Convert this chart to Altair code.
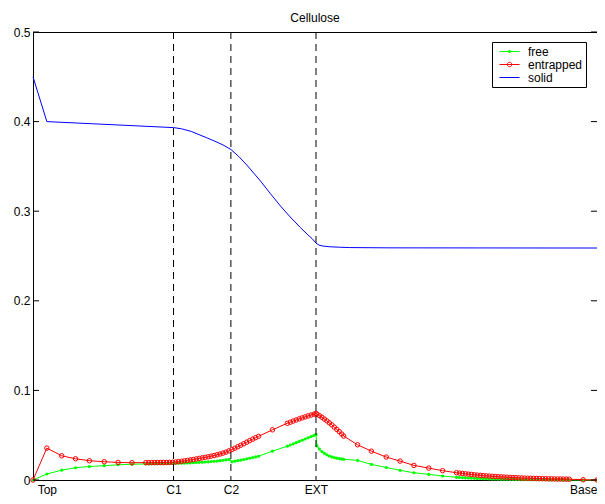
import altair as alt
import pandas as pd

FONT = "Liberation Sans"

# ---- data -------------------------------------------------------------
title_text = ["Cellulose"]

x_pos = [0, 14, 29, 43, 57, 72, 86, 100,
         114, 117, 120, 123, 126, 129, 132, 135, 138, 141,
         144, 147, 150, 153, 156, 159, 162, 165, 168, 171,
         174, 177, 180, 183, 186, 189, 192, 195, 198, 201,
         204, 207, 210, 213, 216, 219, 222, 225, 228,
         242,
         257, 260, 263, 266, 269, 272, 275, 278, 281, 284, 286,
         287, 289.5, 292, 294.5, 297, 299.5, 302, 304.5, 307, 309.5, 312, 314,
         328, 342, 357, 371, 385, 400, 414, 428,
         431, 434, 437, 440, 443, 446, 449, 452, 455, 458,
         461, 464, 467, 470, 473, 476, 479, 482, 485, 488,
         491, 494, 497, 500, 503, 506, 509, 512, 515, 518,
         521, 524, 527, 530, 533, 536, 539, 542,
         556, 570]

free_vals = [0, 0.0067, 0.0110, 0.0137, 0.0150, 0.0160, 0.0170, 0.0176,
             0.0179, 0.0180, 0.0181, 0.0182, 0.0182, 0.0183, 0.0183, 0.0184, 0.0184, 0.0185,
             0.0186, 0.0187, 0.0188, 0.0189, 0.0190, 0.0192, 0.0193, 0.0195, 0.0197, 0.0199,
             0.0201, 0.0203, 0.0206, 0.0209, 0.0212, 0.0216, 0.0220, 0.0225, 0.0230, 0.0204,
             0.0210, 0.0216, 0.0222, 0.0229, 0.0236, 0.0243, 0.0250, 0.0258, 0.0266,
             0.0322,
             0.0378, 0.0391, 0.0404, 0.0417, 0.0431, 0.0444, 0.0458, 0.0471, 0.0485, 0.0498, 0.0508,
             0.0380, 0.0345, 0.0318, 0.0298, 0.0282, 0.0268, 0.0258, 0.0250, 0.0244, 0.0239, 0.0235, 0.0232,
             0.0219, 0.0174, 0.0140, 0.0108, 0.0081, 0.0063, 0.0044, 0.0030,
             0.0028, 0.0026, 0.0024, 0.0022, 0.0021, 0.0019, 0.0018, 0.0017, 0.0015, 0.0014,
             0.0013, 0.0012, 0.0011, 0.0010, 0.0009, 0.0009, 0.0008, 0.0007, 0.0007, 0.0006,
             0.0006, 0.0005, 0.0005, 0.0004, 0.0004, 0.0004, 0.0003, 0.0003, 0.0003, 0.0003,
             0.0002, 0.0002, 0.0002, 0.0002, 0.0002, 0.0001, 0.0001, 0.0001,
             0.0, 0.0]

entrapped_vals = [0, 0.0356, 0.0270, 0.0237, 0.0215, 0.0204, 0.0196, 0.0193,
                  0.0194, 0.0194, 0.0194, 0.0194, 0.0195, 0.0195, 0.0195, 0.0196, 0.0197, 0.0198,
                  0.0201, 0.0205, 0.0209, 0.0214, 0.0219, 0.0224, 0.0229, 0.0235, 0.0241, 0.0247,
                  0.0253, 0.0259, 0.0266, 0.0273, 0.0281, 0.0290, 0.0300, 0.0311, 0.0325, 0.0340,
                  0.0355, 0.0371, 0.0388, 0.0405, 0.0422, 0.0439, 0.0456, 0.0472, 0.0488,
                  0.0560,
                  0.0633, 0.0645, 0.0658, 0.0670, 0.0682, 0.0693, 0.0704, 0.0715, 0.0725, 0.0735, 0.0742,
                  0.0735, 0.0718, 0.0700, 0.0680, 0.0660, 0.0638, 0.0615, 0.0590, 0.0565, 0.0540, 0.0513, 0.0490,
                  0.0393, 0.0322, 0.0256, 0.0211, 0.0163, 0.0133, 0.0104, 0.0081,
                  0.0077, 0.0073, 0.0069, 0.0065, 0.0062, 0.0058, 0.0055, 0.0052, 0.0049, 0.0046,
                  0.0044, 0.0041, 0.0039, 0.0037, 0.0035, 0.0033, 0.0031, 0.0029, 0.0027, 0.0026,
                  0.0024, 0.0023, 0.0021, 0.0020, 0.0019, 0.0018, 0.0017, 0.0016, 0.0015, 0.0014,
                  0.0013, 0.0013, 0.0012, 0.0011, 0.0011, 0.0010, 0.0010, 0.0009,
                  0.0003, 0.0]

solid_x = [0, 14, 60, 100, 142, 150, 160, 167, 175, 184, 192, 200, 208, 217, 230,
           240, 250, 260, 270, 277, 282, 286, 289, 293, 300, 310, 320, 360, 450, 570]
solid_vals = [0.450, 0.400, 0.3976, 0.3955, 0.3933, 0.3920, 0.3890, 0.3858, 0.3822,
              0.3780, 0.3740, 0.3689, 0.3610, 0.3504, 0.3335, 0.3195, 0.3059, 0.2935,
              0.2820, 0.2744, 0.2695, 0.2644, 0.2622, 0.2611, 0.2603, 0.2598, 0.2594,
              0.2591, 0.2590, 0.2589]

marker_x = [142, 200, 286]                      # C1, C2, EXT dashed lines
xtick_pos = [14, 142, 200, 286, 556]
xtick_labels = ["Top", "C1", "C2", "EXT", "Base"]
ytick_vals = [0, 0.1, 0.2, 0.3, 0.4, 0.5]

series_names = ["free", "entrapped", "solid"]
series_colors = ["#00ff00", "#ff0000", "#0000ff"]
legend_paths = [
    "M-1.67,0L1.67,0M-0.17,-0.17L0.17,-0.17M-0.17,0.17L0.17,0.17M-0.17,0L0.17,0",
    "M-1.67,0L1.67,0M0.38,0A0.38,0.38,0,1,1,-0.38,0A0.38,0.38,0,1,1,0.38,0",
    "M-1.67,0L1.67,0",
]

# ---- tables ------------------------------------------------------------
df = pd.concat([
    pd.DataFrame({"x": x_pos, "v": free_vals, "series": "free"}),
    pd.DataFrame({"x": x_pos, "v": entrapped_vals, "series": "entrapped"}),
    pd.DataFrame({"x": solid_x, "v": solid_vals, "series": "solid"}),
], ignore_index=True)
dash_df = pd.DataFrame({"x": marker_x})
ytick_df = pd.DataFrame({"v": ytick_vals})
title_df = pd.DataFrame({"t": title_text})

W, H = 564, 448

label_expr = " : ".join(
    f"datum.value == {p} ? '{l}'" for p, l in zip(xtick_pos, xtick_labels)
) + " : ''"

X = alt.X("x:Q", scale=alt.Scale(domain=[0, 570], nice=False, zero=False),
          axis=alt.Axis(values=xtick_pos, labelExpr=label_expr, title=None,
                        labelOverlap=False, labelFlush=False))
Y = alt.Y("v:Q", scale=alt.Scale(domain=[0, 0.5], nice=False),
          axis=alt.Axis(values=ytick_vals, format="~g", title=None))

base = alt.Chart(df)

free_line = base.transform_filter(alt.datum.series == "free").mark_line(
    color=series_colors[0], strokeWidth=1).encode(x=X, y=Y)
free_pts = base.transform_filter(alt.datum.series == "free").mark_circle(
    color=series_colors[0], size=10, opacity=1).encode(x=X, y=Y)
ent_line = base.transform_filter(alt.datum.series == "entrapped").mark_line(
    color=series_colors[1], strokeWidth=1).encode(x=X, y=Y)
ent_pts = base.transform_filter(alt.datum.series == "entrapped").mark_point(
    color=series_colors[1], size=20, filled=False, strokeWidth=1, opacity=1).encode(x=X, y=Y)
solid_line = base.transform_filter(alt.datum.series == "solid").mark_line(
    color=series_colors[2], strokeWidth=1).encode(x=X, y=Y)

leg = alt.Legend(title=None, orient="none", legendX=459, legendY=10,
                 strokeColor="black", fillColor="white", padding=3,
                 symbolSize=144, symbolStrokeWidth=1, symbolOpacity=1,
                 symbolOffset=8, symbolFillColor="transparent",
                 labelFont=FONT, labelFontSize=12, labelColor="black",
                 labelOffset=12, rowPadding=0, labelLimit=300,
                 labelExpr="datum.label + '  '")

legend_layer = base.mark_point(opacity=0, filled=False).encode(
    x=X, y=Y,
    color=alt.Color("series:N", scale=alt.Scale(domain=series_names, range=series_colors), legend=leg),
    shape=alt.Shape("series:N", scale=alt.Scale(domain=series_names, range=legend_paths), legend=leg),
)

dashes = alt.Chart(dash_df).mark_rule(color="black", strokeWidth=1, strokeDash=[7, 5]).encode(x=X)

ticks_left = alt.Chart(ytick_df).mark_rule(color="black", strokeWidth=1).encode(
    y=Y, x=alt.value(0), x2=alt.value(6))
ticks_right = alt.Chart(ytick_df).mark_rule(color="black", strokeWidth=1).encode(
    y=Y, x=alt.value(W - 6), x2=alt.value(W))

title_mark = alt.Chart(title_df).mark_text(
    font=FONT, fontSize=12, color="black", align="center", baseline="alphabetic"
).encode(text="t:N", x=alt.value(W / 2), y=alt.value(-10))

chart = alt.layer(
    legend_layer, free_line, free_pts, ent_line, ent_pts, solid_line,
    dashes, ticks_left, ticks_right, title_mark,
).properties(
    width=W, height=H,
    autosize=alt.AutoSizeParams(type="none"),
    padding={"left": 25, "top": 24, "right": 0, "bottom": 16},
    background="white",
).configure_view(
    stroke="black", strokeWidth=1
).configure_axis(
    domain=False, ticks=False, tickSize=0, grid=False,
    labelFont=FONT, labelFontSize=12, labelColor="black",
).configure_axisX(labelPadding=4).configure_axisY(labelPadding=3)

chart.save("out.html", embed_options={"renderer": "svg", "actions": False})
